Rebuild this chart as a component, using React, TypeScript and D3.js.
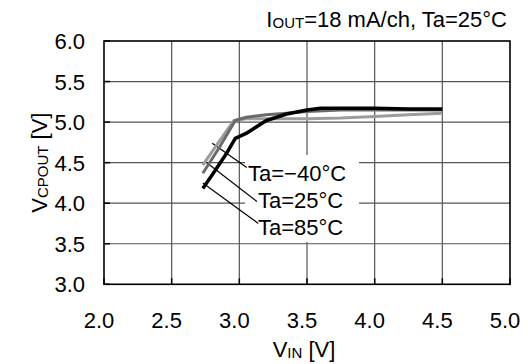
import React from "react";
import * as d3 from "d3";

const xTicks = [2.0, 2.5, 3.0, 3.5, 4.0, 4.5, 5.0];
const yTicks = [3.0, 3.5, 4.0, 4.5, 5.0, 5.5, 6.0];

// Ta = -40°C (light gray)
const vinM40 = [2.73, 2.85, 2.96, 3.05, 3.25, 3.5, 3.75, 4.0, 4.25, 4.5];
const voutM40 = [4.47, 4.76, 5.02, 5.04, 5.04, 5.04, 5.05, 5.07, 5.09, 5.11];
// Ta = 25°C (dark gray)
const vin25 = [2.73, 2.85, 2.97, 3.05, 3.2, 3.35, 3.5, 3.75, 4.0, 4.25, 4.5];
const vout25 = [4.37, 4.68, 5.02, 5.06, 5.09, 5.11, 5.13, 5.15, 5.15, 5.15, 5.15];
// Ta = 85°C (black)
const vin85 = [2.73, 2.8, 2.9, 2.97, 3.05, 3.2, 3.35, 3.5, 3.6, 3.8, 4.0, 4.25, 4.5];
const vout85 = [4.18, 4.35, 4.6, 4.8, 4.86, 5.02, 5.1, 5.15, 5.17, 5.17, 5.17, 5.16, 5.16];

const seriesNames = ["Ta=\u221240\u00b0C", "Ta=25\u00b0C", "Ta=85\u00b0C"];
const seriesColors = ["#9c9c9c", "#6a6a6a", "#000000"];
const seriesWidths = [3, 3, 3.5];
// leader line: point on curve -> point at label (data units)
const leaderFrom = [[2.8, 4.74], [2.75, 4.51], [2.73, 4.25]];
const leaderTo = [[3.055, 4.44], [3.13, 4.02], [3.14, 3.75]];
const labelAt = [[3.064, 4.27], [3.138, 3.94], [3.138, 3.61]];

const FONT = "'Liberation Sans', Arial, Helvetica, sans-serif";

export default function App() {
  const x = d3.scaleLinear().domain([2, 5]).range([104, 510]);
  const y = d3.scaleLinear().domain([3, 6]).range([284.3, 41]);
  const line = d3
    .line<[number, number]>()
    .x((d) => x(d[0]))
    .y((d) => y(d[1]));

  const series = [
    d3.zip(vinM40, voutM40) as [number, number][],
    d3.zip(vin25, vout25) as [number, number][],
    d3.zip(vin85, vout85) as [number, number][],
  ];

  const fs = 22;
  const sub = 15;

  return (
    <svg
      width={528}
      height={364}
      style={{ position: "absolute", left: 0, top: 0, background: "#fff" }}
      fontFamily={FONT}
    >
      <rect x={0} y={0} width={528} height={364} fill="#fff" />
      {/* grid */}
      {xTicks.slice(1, -1).map((t) => (
        <line key={"gx" + t} x1={x(t)} x2={x(t)} y1={y(6)} y2={y(3)} stroke="#555" strokeWidth={1.2} />
      ))}
      {yTicks.slice(1, -1).map((t) => (
        <line key={"gy" + t} x1={x(2)} x2={x(5)} y1={y(t)} y2={y(t)} stroke="#555" strokeWidth={1.2} />
      ))}
      {/* ticks */}
      {xTicks.map((t) => (
        <line key={"tx" + t} x1={x(t)} x2={x(t)} y1={y(3)} y2={y(3) - 6} stroke="#000" strokeWidth={1.5} />
      ))}
      {yTicks.map((t) => (
        <line key={"ty" + t} x1={x(2)} x2={x(2) + 6} y1={y(t)} y2={y(t)} stroke="#000" strokeWidth={1.5} />
      ))}
      {/* label backing */}
      <rect x={245} y={155} width={114} height={87} fill="#fff" />
      {/* frame */}
      <rect x={x(2)} y={y(6)} width={x(5) - x(2)} height={y(3) - y(6)} fill="none" stroke="#000" strokeWidth={1.6} />

      {/* leaders and labels */}
      {seriesNames.map((n, i) => (
        <g key={"lab" + i}>
          <line
            x1={x(leaderFrom[i][0])}
            y1={y(leaderFrom[i][1])}
            x2={x(leaderTo[i][0])}
            y2={y(leaderTo[i][1])}
            stroke="#000"
            strokeWidth={1.2}
          />
          <text x={x(labelAt[i][0])} y={y(labelAt[i][1])} fontSize={fs} fill="#000">
            {n}
          </text>
        </g>
      ))}

      {/* curves */}
      {series.map((s, i) => (
        <path
          key={"s" + i}
          d={line(s) || ""}
          fill="none"
          stroke={seriesColors[i]}
          strokeWidth={seriesWidths[i]}
          strokeLinejoin="round"
        />
      ))}

      {/* tick labels */}
      {xTicks.map((t) => (
        <text key={"lx" + t} x={x(t) - 5} y={328} fontSize={fs} textAnchor="middle" fill="#000">
          {t.toFixed(1)}
        </text>
      ))}
      {yTicks.map((t) => (
        <text key={"ly" + t} x={85} y={y(t) + 8} fontSize={fs} textAnchor="end" fill="#000">
          {t.toFixed(1)}
        </text>
      ))}

      {/* title */}
      <text x={507} y={27} fontSize={fs} textAnchor="end" fill="#000">
        I<tspan fontSize={sub} dy={1}>OUT</tspan>
        <tspan dy={-1}>=18 mA/ch, Ta=25°C</tspan>
      </text>
      {/* x axis title */}
      <text x={304} y={357} fontSize={fs} textAnchor="middle" fill="#000">
        V<tspan fontSize={sub} dy={1}>IN</tspan>
        <tspan dy={-1}> [V]</tspan>
      </text>
      {/* y axis title */}
      <text
        transform={`translate(47, ${(y(3) + y(6)) / 2}) rotate(-90)`}
        fontSize={fs}
        textAnchor="middle"
        fill="#000"
      >
        V<tspan fontSize={sub} dy={1}>CPOUT</tspan>
        <tspan dy={-1}> [V]</tspan>
      </text>
    </svg>
  );
}
